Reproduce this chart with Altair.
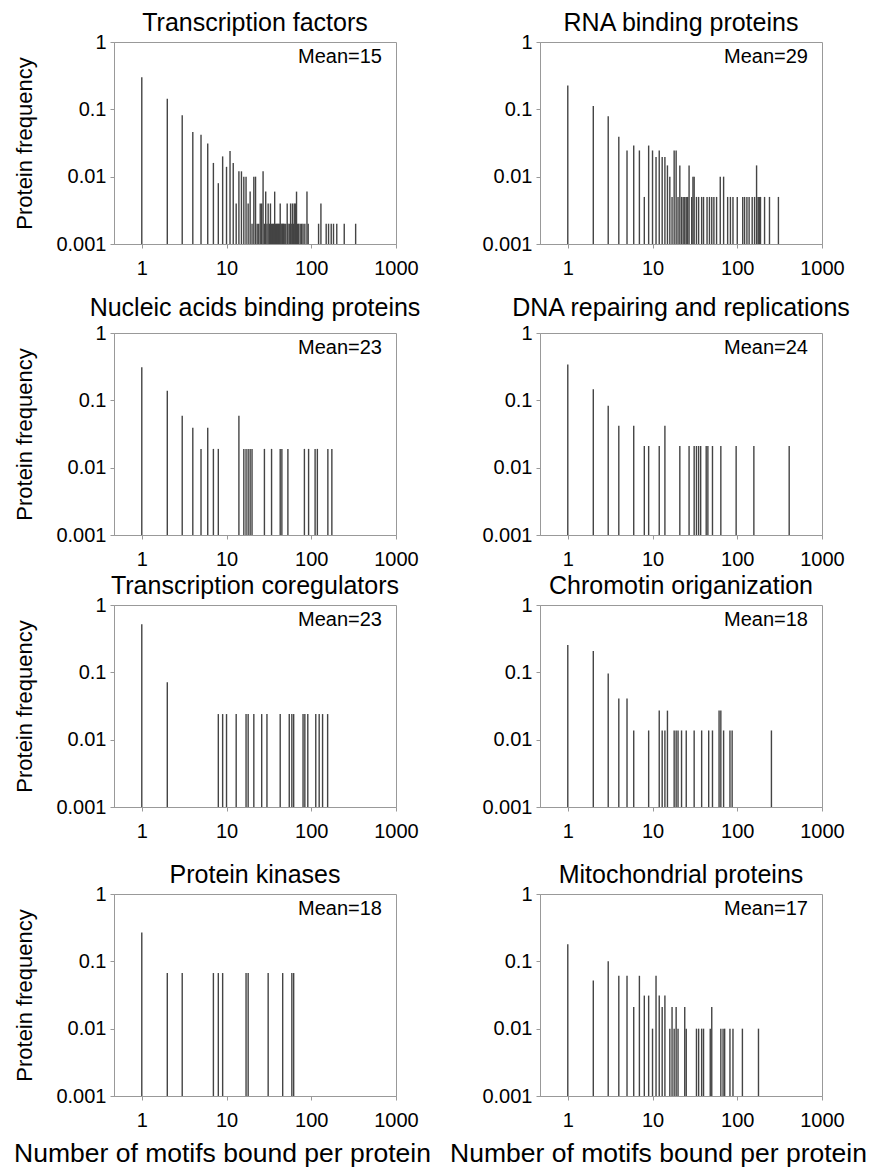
import altair as alt
import pandas as pd

FONT = "Liberation Sans"

titles = [
    "Transcription factors", "RNA binding proteins",
    "Nucleic acids binding proteins", "DNA repairing and replications",
    "Transcription coregulators", "Chromotin origanization",
    "Protein kinases", "Mitochondrial proteins",
]
means = [15, 29, 23, 24, 23, 18, 18, 17]

tf_x = [1, 2, 3, 4, 5, 6, 7, 8, 9, 10, 11, 12, 13, 14, 15, 16, 17, 18, 19, 20,
        21, 22, 23, 24, 25, 26, 27, 28, 29, 30, 31, 32, 33, 34, 35, 36, 37, 38,
        39, 40, 41, 42, 43, 44, 45, 46, 47, 48, 50, 52, 53, 55, 57, 58, 60, 62,
        63, 65, 67, 69, 71, 74, 77, 80, 84, 89, 92, 122, 130, 150, 160, 172,
        183, 200, 245, 334]
tf_f = [0.30, 0.144, 0.082, 0.046, 0.042, 0.031, 0.016, 0.008, 0.020, 0.014,
        0.024, 0.016, 0.004, 0.012, 0.012, 0.010, 0.010, 0.004, 0.006, 0.002,
        0.010, 0.010, 0.002, 0.002, 0.004, 0.004, 0.012, 0.002, 0.006, 0.002,
        0.004, 0.002, 0.004, 0.002, 0.002, 0.002, 0.006, 0.002, 0.002, 0.002,
        0.002, 0.002, 0.004, 0.002, 0.002, 0.002, 0.002, 0.002, 0.002, 0.004,
        0.002, 0.002, 0.004, 0.002, 0.004, 0.002, 0.004, 0.004, 0.006, 0.002,
        0.002, 0.002, 0.002, 0.002, 0.002, 0.006, 0.002, 0.002, 0.004, 0.002,
        0.002, 0.002, 0.002, 0.002, 0.002, 0.002]

rna_x = [1, 2, 3, 4, 5, 6, 7, 8, 9, 10, 11, 12, 13, 14, 15, 16, 17, 18, 19, 20,
         21, 22, 23, 24, 25, 26, 27, 29, 30, 31, 33, 35, 38, 40, 44, 47, 50, 53,
         57, 63, 69, 77, 83, 89, 100, 116, 122, 130, 138, 150, 160, 169, 176,
         180, 184, 188, 210, 240, 306]
rna_f = [0.226, 0.112, 0.079, 0.039, 0.0245, 0.029, 0.0245, 0.005, 0.029,
         0.0245, 0.0196, 0.0245, 0.0196, 0.0196, 0.0147, 0.010, 0.005, 0.0245,
         0.0245, 0.005, 0.0147, 0.005, 0.005, 0.005, 0.005, 0.005, 0.0147,
         0.005, 0.010, 0.010, 0.005, 0.005, 0.005, 0.005, 0.005, 0.005, 0.005,
         0.005, 0.005, 0.010, 0.010, 0.005, 0.005, 0.005, 0.005, 0.005, 0.005,
         0.005, 0.005, 0.005, 0.005, 0.0147, 0.005, 0.005, 0.005, 0.005, 0.005,
         0.005, 0.005]

nab_x = [1, 2, 3, 4, 5, 6, 7, 8, 14, 16, 17, 18, 19, 20, 28, 34, 43, 45, 53,
         83, 93, 111, 118, 157, 175]
nab_f = [0.31, 0.139, 0.059, 0.039, 0.019, 0.039, 0.019, 0.019, 0.059, 0.019,
         0.019, 0.019, 0.019, 0.019, 0.019, 0.019, 0.019, 0.019, 0.019, 0.019,
         0.019, 0.019, 0.019, 0.019, 0.019]

dna_x = [1, 2, 3, 4, 6, 8, 9, 12, 14, 21, 27, 31, 33, 35, 37, 43, 45, 51, 64,
         97, 157, 410]
dna_f = [0.34, 0.146, 0.083, 0.042, 0.042, 0.021, 0.021, 0.021, 0.042, 0.021,
         0.021, 0.021, 0.021, 0.021, 0.021, 0.021, 0.021, 0.021, 0.021, 0.021,
         0.021, 0.021]

tc_x = [1, 2, 8, 9, 10, 13, 17, 18, 21, 26, 30, 43, 55, 59, 62, 80, 84, 91,
        113, 124, 136, 156]
tc_f = [0.516, 0.071, 0.024, 0.024, 0.024, 0.024, 0.024, 0.024, 0.024, 0.024,
        0.024, 0.024, 0.024, 0.024, 0.024, 0.024, 0.024, 0.024, 0.024, 0.024,
        0.024, 0.024]

chr_x = [1, 2, 3, 4, 5, 6, 9, 12, 13, 14, 15, 18, 19, 20, 22, 25, 31, 38, 46,
         51, 61, 64, 69, 82, 87, 253]
chr_f = [0.254, 0.207, 0.096, 0.041, 0.041, 0.0137, 0.0137, 0.027, 0.0137,
         0.0137, 0.027, 0.0137, 0.0137, 0.0137, 0.0137, 0.0137, 0.0137, 0.0137,
         0.0137, 0.0137, 0.027, 0.027, 0.0137, 0.0137, 0.0137, 0.0137]

pk_x = [1, 2, 3, 7, 8, 9, 17, 18, 31, 46, 59, 62]
pk_f = [0.268, 0.067, 0.067, 0.067, 0.067, 0.067, 0.067, 0.067, 0.067, 0.067,
        0.067, 0.067]

mit_x = [1, 2, 3, 4, 5, 6, 7, 8, 9, 10, 11, 12, 13, 14, 16, 17, 18, 19, 20, 24,
         25, 33, 35, 38, 40, 48, 50, 64, 68, 71, 82, 89, 115, 178]
mit_f = [0.18, 0.052, 0.10, 0.061, 0.061, 0.021, 0.061, 0.031, 0.031, 0.010,
         0.061, 0.031, 0.021, 0.031, 0.010, 0.021, 0.010, 0.021, 0.010, 0.021,
         0.010, 0.010, 0.010, 0.010, 0.010, 0.010, 0.021, 0.010, 0.010, 0.010,
         0.010, 0.010, 0.010, 0.010]

series = [(tf_x, tf_f), (rna_x, rna_f), (nab_x, nab_f), (dna_x, dna_f),
          (tc_x, tc_f), (chr_x, chr_f), (pk_x, pk_f), (mit_x, mit_f)]

x_ticks = [1, 10, 100, 1000]
y_ticks = [0.001, 0.01, 0.1, 1]
W, H = 282, 202
XTITLE = "Number of motifs bound per protein"
YTITLE = "Protein frequency"


def panel(i):
    xs, fs = series[i]
    df = pd.DataFrame({"motifs": xs, "freq": fs})
    row, col = divmod(i, 2)
    xkw = dict(values=x_ticks, format="d", labelFlush=False, labelOverlap=False,
               labelPadding=10, tickSize=4)
    if row == 3:
        xaxis = alt.Axis(title=XTITLE, titleX=108 if col == 0 else 118,
                         titlePadding=10, titleFontSize=26.5, **xkw)
    else:
        xaxis = alt.Axis(title=None, **xkw)
    ykw = dict(values=y_ticks, labelFlush=False, labelOverlap=False,
               labelPadding=4, tickSize=4,
               labelExpr="datum.value >= 1 ? '1' : datum.value >= 0.1 ? '0.1' : datum.value >= 0.01 ? '0.01' : '0.001'")
    if col == 0:
        yaxis = alt.Axis(title=YTITLE, titlePadding=19, titleFontSize=22, **ykw)
    else:
        yaxis = alt.Axis(title=None, **ykw)

    bars = alt.Chart(df).mark_rule(color="#444444", strokeWidth=1.4).encode(
        x=alt.X("motifs:Q",
                scale=alt.Scale(type="log", domain=[0.47, 1000], nice=False),
                axis=xaxis),
        y=alt.Y("freq:Q",
                scale=alt.Scale(type="log", domain=[0.001, 1], nice=False),
                axis=yaxis),
        y2=alt.datum(0.001),
    )
    mdf = pd.DataFrame({"label": [f"Mean={means[i]}"]})
    txt = alt.Chart(mdf).mark_text(
        align="right", baseline="middle", fontSize=20, font=FONT, color="black"
    ).encode(x=alt.value(W - 14), y=alt.value(15), text="label:N")
    return alt.layer(bars, txt).properties(
        width=W, height=H,
        title=alt.TitleParams(titles[i], fontSize=25, font=FONT,
                              offset=2 if row == 1 else -4,
                              fontWeight="normal", anchor="middle", color="black"),
    )


def spacer(h):
    return alt.Chart(pd.DataFrame({"s": [0]})).mark_point(opacity=0).encode(
        x=alt.value(0), y=alt.value(0)
    ).properties(width=1, height=h, view=alt.ViewBackground(stroke="transparent"))


gaps = [89, 70, 87]
cells = []
for r in range(4):
    cells += [panel(2 * r), panel(2 * r + 1)]
    if r < 3:
        cells += [spacer(gaps[r]), spacer(gaps[r])]

chart = alt.concat(
    *cells, columns=2, spacing={"row": 0, "column": 144},
    bounds="flush", align="each",
).properties(
    padding={"left": 5, "top": 2, "right": 5, "bottom": 0}
).configure_view(
    stroke="#999999", strokeWidth=1
).configure_axis(
    labelFont=FONT, titleFont=FONT, labelFontSize=20, labelColor="black",
    titleColor="black", titleFontWeight="normal", domainColor="#999999",
    tickColor="#999999", grid=False,
)

chart.save("out.html", embed_options={"renderer": "svg", "actions": False})
